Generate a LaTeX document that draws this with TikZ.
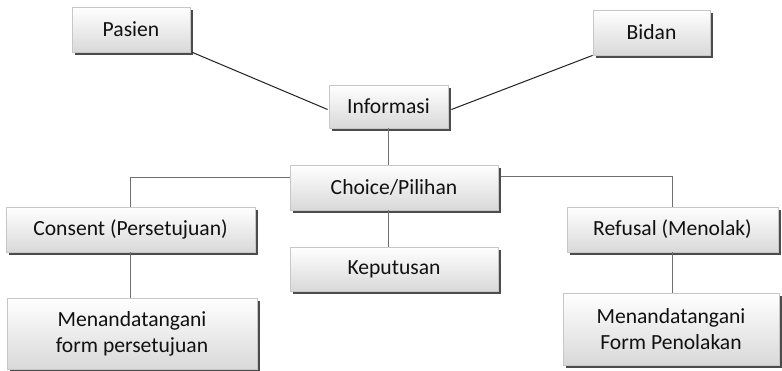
\documentclass[tikz,border=0pt]{standalone}
\usepackage{fontspec}
\setmainfont{Carlito}
\usetikzlibrary{shadows,calc}
\definecolor{txt}{HTML}{111111}
\definecolor{lnk}{HTML}{707070}
\definecolor{diag}{HTML}{202020}
\begin{document}
\begin{tikzpicture}[x=1pt,y=-1pt,
  box/.style={rectangle, draw=black!22, line width=0.8pt, top color=white, bottom color=black!15,
    inner sep=0pt, text=txt, font=\fontsize{21.6}{26}\selectfont, align=center,
    drop shadow={shadow xshift=3pt, shadow yshift=-3pt, fill=black!70, opacity=1}},
  link/.style={draw=lnk, line width=1pt},
  dlink/.style={draw=diag, line width=1pt}]
\useasboundingbox (0,0) rectangle (782,370);
\node[box, minimum width=118pt, minimum height=45pt] (pasien) at (131,29.5) {Pasien};
\node[box, minimum width=117pt, minimum height=45pt] (bidan) at (651.5,32.5) {Bidan};
\node[box, minimum width=119pt, minimum height=43pt] (info) at (388.5,106.5) {Informasi};
\node[box, minimum width=208pt, minimum height=45pt] (choice) at (394,187.5) {Choice/Pilihan};
\node[box, minimum width=208pt, minimum height=44pt] (kep) at (394,269) {Keputusan};
\node[box, minimum width=249pt, minimum height=45pt] (consent) at (130.5,229.5) {Consent (Persetujuan)};
\node[box, minimum width=250pt, minimum height=71pt] (menl) at (132,333.5) {Menandatangani\\form persetujuan};
\node[box, minimum width=211pt, minimum height=45pt] (refusal) at (672.5,229.5) {Refusal (Menolak)};
\node[box, minimum width=216pt, minimum height=72pt] (menr) at (671,329) {Menandatangani\\Form Penolakan};
\draw[dlink] ($(pasien.south east)+(2,0)$) -- ($(info.west)+(-1,3)$);
\draw[dlink] (bidan.south west) -- ($(info.east)+(3,3)$);
\draw[link] (info.south) -- (info.south |- choice.north);
\draw[link] (choice.west |- 0,177) -| (consent.north);
\draw[link] ($(choice.east)+(3,-11)$) -| (refusal.north);
\draw[link] (info.south |- choice.south) -- (info.south |- kep.north);
\draw[link] (consent.south) -- (consent.south |- menl.north);
\draw[link] (refusal.south) -- (refusal.south |- menr.north);
\end{tikzpicture}
\end{document}
